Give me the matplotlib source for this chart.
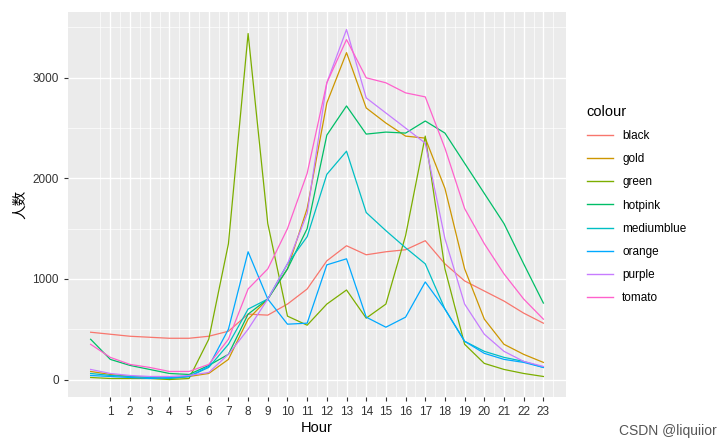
import matplotlib
matplotlib.use("Agg")
import matplotlib.pyplot as plt
import numpy as np

hours = list(range(24))
names = ["black","gold","green","hotpink","mediumblue","orange","purple","tomato"]
colors = ["#F8766D","#CD9600","#7CAE00","#00BE67","#00BFC4","#00A9FF","#C77CFF","#FF61CC"]
black = [470,450,430,420,410,410,430,480,650,640,750,900,1180,1330,1240,1270,1290,1380,1150,980,880,780,660,560]
gold = [80,50,30,20,10,30,60,200,600,800,1100,1700,2750,3250,2700,2550,2420,2400,1900,1100,600,350,250,170]
green = [20,10,10,10,0,10,400,1350,3440,1550,630,540,750,890,610,750,1430,2420,1100,350,160,100,60,30]
hotpink = [400,200,140,100,60,50,140,250,650,800,1100,1500,2430,2720,2440,2460,2450,2570,2450,2150,1850,1550,1150,760]
mediumblue = [60,40,30,20,10,30,120,350,700,800,1150,1420,2040,2270,1660,1480,1310,1150,700,380,280,220,180,120]
orange = [40,30,20,10,20,30,130,500,1270,800,550,560,1140,1200,620,520,620,970,700,380,260,200,170,120]
purple = [100,60,40,30,30,40,70,250,500,800,1150,1650,2950,3480,2800,2650,2500,2350,1400,750,450,280,180,130]
tomato = [350,220,150,120,80,80,150,400,900,1100,1500,2050,2950,3380,3000,2950,2850,2810,2300,1700,1350,1050,800,600]
series = [black,gold,green,hotpink,mediumblue,orange,purple,tomato]

plt.rcParams['font.family'] = ['Liberation Sans', 'Noto Sans CJK SC', 'DejaVu Sans']
fig = plt.figure(figsize=(7.24,4.47), dpi=100)
ax = fig.add_axes([68/724, 1-397/447, (566-68)/724, (397-12)/447])
ax.set_facecolor("#EBEBEB")
for n,c,s in zip(names,colors,series):
    ax.plot(hours, s, color=c, lw=0.9, label=n)
ax.set_xlim(-1.15, 24.15)
ax.set_ylim(-174, 3654)
ax.set_xticks(range(1,24))
ax.set_xticks(np.arange(0.5,24,1), minor=True)
ax.set_yticks([0,1000,2000,3000])
ax.set_yticks([500,1500,2500,3500], minor=True)
ax.grid(True, which='major', color='white', lw=1.0)
ax.grid(True, which='minor', color='white', lw=0.5)
ax.set_axisbelow(True)
for sp in ax.spines.values(): sp.set_visible(False)
ax.tick_params(which='major', colors='#333333', labelsize=8.5, length=3, color='#333333')
ax.tick_params(which='minor', length=0)
ax.set_xlabel("Hour", fontsize=10.5, labelpad=2)
ax.set_ylabel("人数", fontsize=10.5, labelpad=4)
leg = ax.legend(title="colour", loc='center left', bbox_to_anchor=(1.02,0.5), frameon=False,
                fontsize=8.5, title_fontsize=10.5, handlelength=2.2, labelspacing=0.95)
leg._legend_box.align = "left"
for h in leg.get_lines(): h.set_linewidth(1.0)
fig.text(0.99, 0.02, "CSDN @liquiior", ha='right', va='bottom', fontsize=10, color='#555555')
fig.savefig("out.png", dpi=100)
